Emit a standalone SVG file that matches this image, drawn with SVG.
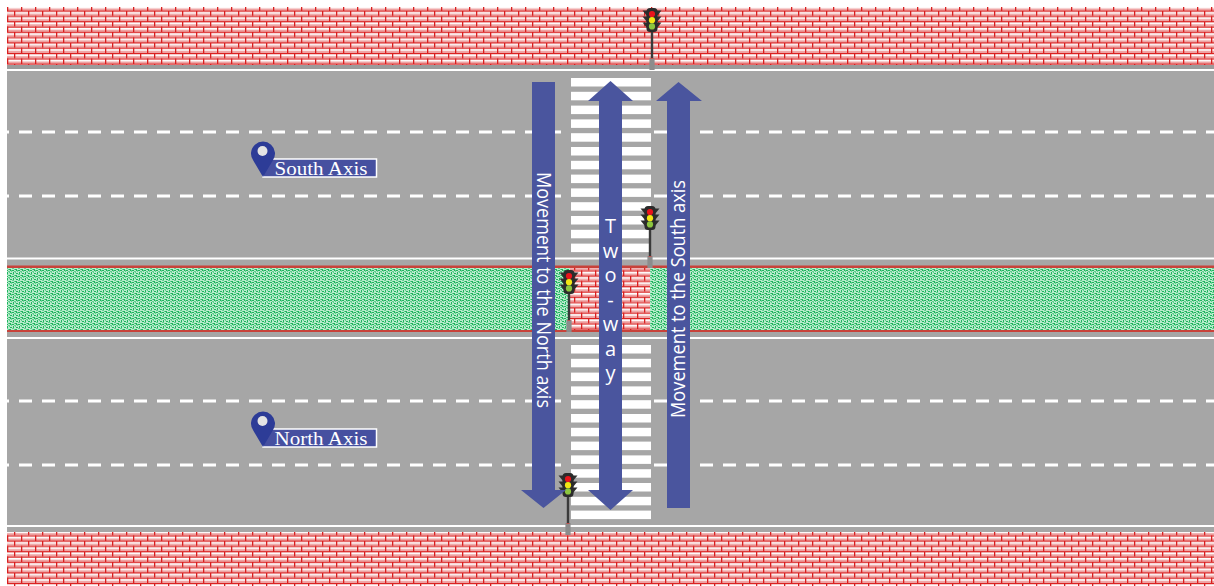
<svg xmlns="http://www.w3.org/2000/svg" xmlns:xlink="http://www.w3.org/1999/xlink" width="1214" height="586" viewBox="0 0 1214 586">
  <style>
    .road { fill: #a6a6a6; }
    .curb { fill: #9b9b9b; }
    .edge { stroke: #ffffff; stroke-width: 2; }
    .lane { stroke: #ffffff; stroke-width: 3; stroke-dasharray: 13 10; stroke-dashoffset: 11; }
    .stripe { fill: #ffffff; }
    .arrow { fill: #4a559e; }
    .vtext { font-family: "Open Sans", "Noto Sans", sans-serif; font-size: 19.5px; fill: #ffffff; }
    .stack { font-family: "Open Sans", "Noto Sans", sans-serif; font-size: 20px; fill: #ffffff; text-anchor: middle; }
    .pin { fill: #2d3c97; }
    .tag { fill: #4650a0; stroke: #ffffff; stroke-width: 1.5; }
    .tagtext { font-family: "Liberation Serif", "Times New Roman", serif; font-size: 18px; fill: #ffffff; }
    .median-edge { fill: #c8423a; }
  </style>
  <defs>
    <!-- red brick paving -->
    <pattern id="brick" patternUnits="userSpaceOnUse" width="14" height="10.6">
      <rect width="14" height="10.6" fill="#ffffff"/>
      <rect y="3.1" width="14" height="2.2" fill="#eea3a3"/>
      <rect y="8.4" width="14" height="2.2" fill="#eea3a3"/>
      <rect y="0" width="14" height="1.2" fill="#d91f1f"/>
      <rect y="5.3" width="14" height="1.2" fill="#d91f1f"/>
      <rect x="0" y="0" width="1.3" height="5.3" fill="#d91f1f"/>
      <rect x="7" y="5.3" width="1.3" height="5.3" fill="#d91f1f"/>
    </pattern>
    <!-- grass stipple for the median -->
    <pattern id="grass" patternUnits="userSpaceOnUse" width="6" height="6">
      <rect width="6" height="6" fill="#b9ebcd"/>
      <rect x="0" y="0" width="2" height="1" fill="#1fb35e"/>
      <rect x="3" y="1" width="1" height="2" fill="#5fcf8e"/>
      <rect x="1" y="2" width="1" height="2" fill="#1fb35e"/>
      <rect x="4" y="3" width="2" height="1" fill="#1fb35e"/>
      <rect x="0" y="4" width="2" height="1" fill="#5fcf8e"/>
      <rect x="3" y="5" width="2" height="1" fill="#1fb35e"/>
      <rect x="5" y="0" width="1" height="2" fill="#5fcf8e"/>
      <rect x="2" y="5" width="1" height="1" fill="#5fcf8e"/>
      <rect x="4" y="0" width="1" height="1" fill="#1fb35e"/>
      <rect x="2" y="1" width="1" height="1" fill="#5fcf8e"/>
    </pattern>
    <!-- traffic light: head at 0..24, pole, base -->
    <g id="signal">
      <rect x="-1.2" y="23" width="2.4" height="28" fill="#3a3a3a"/>
      <rect x="-2.6" y="50" width="5.2" height="12" fill="#8c8c8c"/>
      <rect x="-1.5" y="50" width="3" height="1" fill="#c0504d"/>
      <polygon points="-5,2.5 -9.5,2.5 -5,8" fill="#2e2e2e"/>
      <polygon points="5,2.5 9.5,2.5 5,8" fill="#2e2e2e"/>
      <polygon points="-5,8.5 -9.5,8.5 -5,14" fill="#2e2e2e"/>
      <polygon points="5,8.5 9.5,8.5 5,14" fill="#2e2e2e"/>
      <polygon points="-5,14.5 -9.5,14.5 -5,20" fill="#2e2e2e"/>
      <polygon points="5,14.5 9.5,14.5 5,20" fill="#2e2e2e"/>
      <rect x="-5.5" y="0" width="11" height="24" rx="3.5" fill="#2b2b2b"/>
      <circle cx="0" cy="6" r="3.1" fill="#e8141c"/>
      <circle cx="0" cy="12.2" r="3.1" fill="#f2e614"/>
      <circle cx="0" cy="18.4" r="3.1" fill="#8cc63f"/>
    </g>
    <!-- location pin, tip at origin -->
    <g id="marker">
      <path class="pin" d="M0,0 L-9.6,-16.2 A12,12 0 1 1 9.6,-16.2 Z"/>
      <circle cx="-0.5" cy="-26" r="5" fill="#e4e4e4"/>
    </g>
  </defs>

  <!-- sidewalks -->
  <rect id="sidewalk-north" x="7" y="7" width="1207" height="58" fill="url(#brick)"/>
  <rect id="sidewalk-south" x="7" y="532" width="1207" height="54" fill="url(#brick)"/>

  <!-- upper carriageway -->
  <g id="road-upper">
    <rect class="road" x="7" y="65" width="1207" height="201"/>
    <rect class="curb" x="7" y="65" width="1207" height="4"/>
    <line class="edge" x1="7" y1="70" x2="1214" y2="70"/>
    <line class="edge" x1="7" y1="258.5" x2="1214" y2="258.5"/>
    <line class="lane" x1="7" y1="132" x2="571" y2="132"/>
    <line class="lane" x1="651" y1="132" x2="1214" y2="132" style="stroke-dashoffset:20"/>
    <line class="lane" x1="7" y1="196" x2="571" y2="196"/>
    <line class="lane" x1="651" y1="196" x2="1214" y2="196" style="stroke-dashoffset:20"/>
  </g>

  <!-- central median -->
  <g id="median">
    <rect x="7" y="267" width="1207" height="64" fill="url(#grass)"/>
    <rect x="570" y="267" width="80" height="64" fill="url(#brick)"/>
    <rect class="median-edge" x="7" y="265.5" width="1207" height="2.5"/>
    <rect class="median-edge" x="7" y="330" width="1207" height="2.2"/>
  </g>

  <!-- lower carriageway -->
  <g id="road-lower">
    <rect class="road" x="7" y="332" width="1207" height="200"/>
    <line class="edge" x1="7" y1="338" x2="1214" y2="338"/>
    <line class="edge" x1="7" y1="526" x2="1214" y2="526"/>
    <line class="lane" x1="7" y1="401" x2="571" y2="401"/>
    <line class="lane" x1="651" y1="401" x2="1214" y2="401" style="stroke-dashoffset:20"/>
    <line class="lane" x1="7" y1="465" x2="571" y2="465"/>
    <line class="lane" x1="651" y1="465" x2="1214" y2="465" style="stroke-dashoffset:20"/>
  </g>

  <!-- zebra crossing -->
  <g id="crosswalk">
    <rect class="stripe" x="571" y="78" width="80" height="8.5"/>
    <rect class="stripe" x="571" y="91.8" width="80" height="8.5"/>
    <rect class="stripe" x="571" y="105.6" width="80" height="8.5"/>
    <rect class="stripe" x="571" y="119.4" width="80" height="8.5"/>
    <rect class="stripe" x="571" y="133.2" width="80" height="8.5"/>
    <rect class="stripe" x="571" y="147" width="80" height="8.5"/>
    <rect class="stripe" x="571" y="160.8" width="80" height="8.5"/>
    <rect class="stripe" x="571" y="174.6" width="80" height="8.5"/>
    <rect class="stripe" x="571" y="188.4" width="80" height="8.5"/>
    <rect class="stripe" x="571" y="202.2" width="80" height="8.5"/>
    <rect class="stripe" x="571" y="216" width="80" height="8.5"/>
    <rect class="stripe" x="571" y="229.8" width="80" height="8.5"/>
    <rect class="stripe" x="571" y="243.6" width="80" height="8.5"/>
    <rect class="stripe" x="571" y="345" width="80" height="8.5"/>
    <rect class="stripe" x="571" y="358.8" width="80" height="8.5"/>
    <rect class="stripe" x="571" y="372.6" width="80" height="8.5"/>
    <rect class="stripe" x="571" y="386.4" width="80" height="8.5"/>
    <rect class="stripe" x="571" y="400.2" width="80" height="8.5"/>
    <rect class="stripe" x="571" y="414" width="80" height="8.5"/>
    <rect class="stripe" x="571" y="427.8" width="80" height="8.5"/>
    <rect class="stripe" x="571" y="441.6" width="80" height="8.5"/>
    <rect class="stripe" x="571" y="455.4" width="80" height="8.5"/>
    <rect class="stripe" x="571" y="469.2" width="80" height="8.5"/>
    <rect class="stripe" x="571" y="483" width="80" height="8.5"/>
    <rect class="stripe" x="571" y="496.8" width="80" height="8.5"/>
    <rect class="stripe" x="571" y="510.6" width="80" height="8.5"/>
  </g>

  <!-- traffic signals -->
  <g id="signal-north"><use xlink:href="#signal" href="#signal" transform="translate(652,8)"/></g>
  <g id="signal-upper-island"><use xlink:href="#signal" href="#signal" transform="translate(650,206)"/></g>
  <g id="signal-median"><use xlink:href="#signal" href="#signal" transform="translate(569,270)"/></g>
  <g id="signal-south"><use xlink:href="#signal" href="#signal" transform="translate(568,473)"/></g>

  <!-- movement arrows -->
  <g id="connectors">
    <g id="arrow-north">
      <path class="arrow" d="M532,82 H555 V490 H566 L543.5,508 L521,490 H532 Z"/>
      <text class="vtext" transform="translate(537,290) rotate(90)" text-anchor="middle" textLength="236" lengthAdjust="spacingAndGlyphs">Movement to the North axis</text>
    </g>
    <g id="arrow-two-way">
      <path class="arrow" d="M610.5,81 L633,101 H622 V490 H633 L610.5,510 L588,490 H599 V101 H588 Z"/>
      <text class="stack" x="610.5" y="233">T</text>
      <text class="stack" x="610.5" y="257.5">w</text>
      <text class="stack" x="610.5" y="282">o</text>
      <text class="stack" x="610.5" y="306.5">-</text>
      <text class="stack" x="610.5" y="331">w</text>
      <text class="stack" x="610.5" y="355.5">a</text>
      <text class="stack" x="610.5" y="380">y</text>
    </g>
    <g id="arrow-south">
      <path class="arrow" d="M678.5,82 L702,101 H690 V508 H667 V101 H656 Z"/>
      <text class="vtext" transform="translate(685,299) rotate(-90)" text-anchor="middle" textLength="238" lengthAdjust="spacingAndGlyphs">Movement to the South axis</text>
    </g>
  </g>

  <!-- axis labels -->
  <g id="label-south-axis">
    <rect class="tag" x="263" y="159" width="113.5" height="18"/>
    <use xlink:href="#marker" href="#marker" transform="translate(263,177)"/>
    <text class="tagtext" x="274.5" y="174.5" textLength="93" lengthAdjust="spacingAndGlyphs">South Axis</text>
  </g>
  <g id="label-north-axis">
    <rect class="tag" x="263" y="429" width="113.5" height="18"/>
    <use xlink:href="#marker" href="#marker" transform="translate(263,447)"/>
    <text class="tagtext" x="274.5" y="444.5" textLength="93" lengthAdjust="spacingAndGlyphs">North Axis</text>
  </g>
</svg>
